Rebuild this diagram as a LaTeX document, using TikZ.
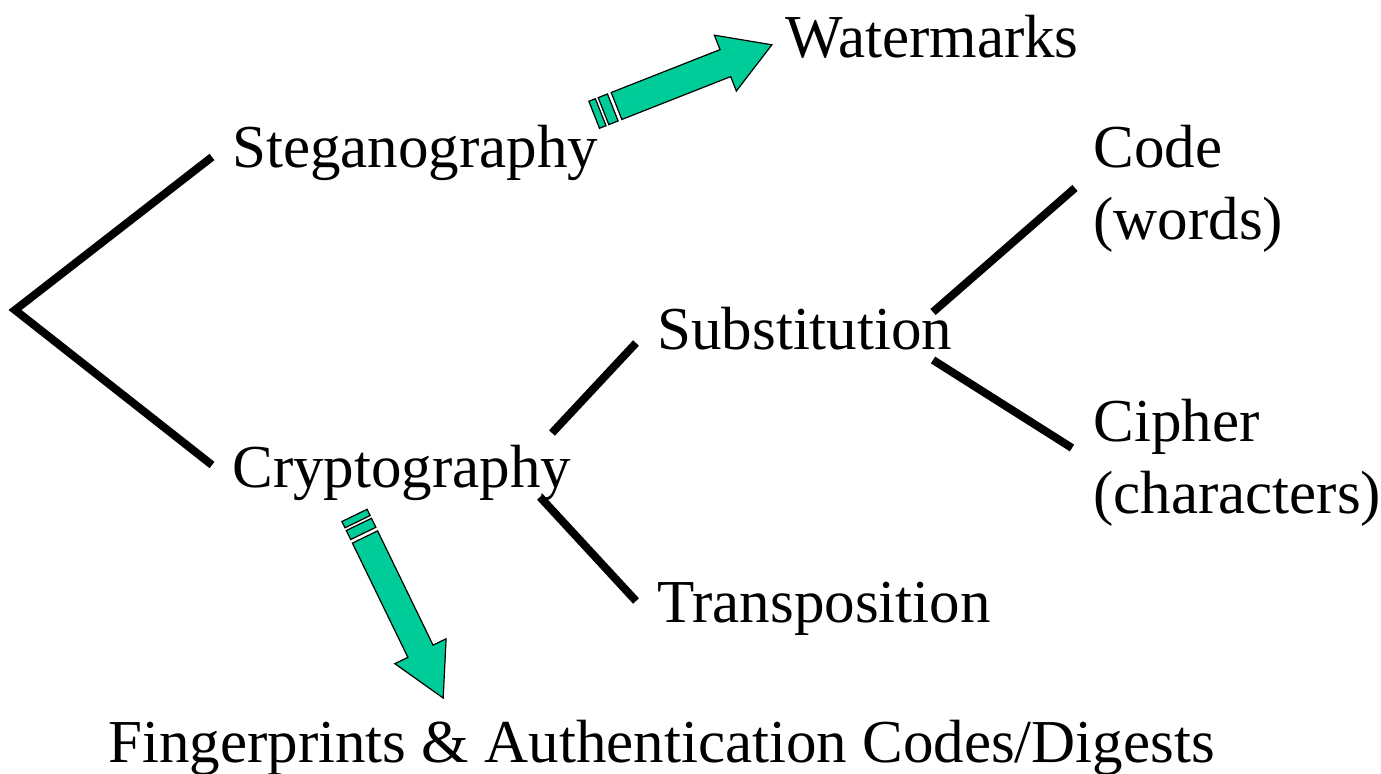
\documentclass[tikz,border=0pt]{standalone}
\usepackage{fontspec}
\setmainfont{Liberation Serif}
\definecolor{arrowgreen}{RGB}{0,204,153}
\tikzset{
  label/.style={inner sep=0pt, anchor=base west, font=\fontsize{30.5}{36}\selectfont},
  branch/.style={line width=4pt, line cap=butt},
  blockfill/.style={fill=arrowgreen, draw=black, line width=0.6pt, line join=miter},
}
% striped block arrow along the local x axis: #1 length, #2 head length,
% #3 shaft width, #4 head width
\newcommand{\stripedarrow}[4]{%
  \path[blockfill] (0,-#3/2) -- ({#1-#2},-#3/2) -- ({#1-#2},-#4/2) -- (#1,0)
    -- ({#1-#2},#4/2) -- ({#1-#2},#3/2) -- (0,#3/2) -- cycle;
  \path[blockfill] (-14,-#3/2) rectangle (-4,#3/2);
  \path[blockfill] (-24,-#3/2) rectangle (-17,#3/2);
}
\begin{document}
\begin{tikzpicture}[x=0.5pt,y=-0.5pt]
\useasboundingbox (0,0) rectangle (1381,774);

% labels
\node[label] (steg)  at (232,168) {Steganography};
\node[label] (crypt) at (232,488) {Cryptography};
\node[label] (water) at (785,58)  {Watermarks};
\node[label] (subst) at (657,350) {Substitution};
\node[label] (trans) at (657,622) {Transposition};
\node[label, align=left, anchor=north west] (code)
  at (1093,125) {Code\\(words)};
\node[label, align=left, anchor=north west] (ciph)
  at (1093,399) {Cipher\\(characters)};
\node[label] (finger) at (108,762) {Fingerprints \& Authentication Codes/Digests};

% branch end points
\coordinate (root) at (15,310);
\coordinate (stegIn)   at (212,157);
\coordinate (cryptIn)  at (212,465);
\coordinate (cryptOutU) at (552,433);
\coordinate (substIn)  at (636,343);
\coordinate (cryptOutD) at (540,497);
\coordinate (transIn)  at (636,601);
\coordinate (substOutU) at (933,312);
\coordinate (codeIn)   at (1075,188);
\coordinate (substOutD) at (933,360);
\coordinate (ciphIn)   at (1072,448);

\draw[branch] (stegIn) -- (root) -- (cryptIn);
\draw[branch] (cryptOutU) -- (substIn);
\draw[branch] (cryptOutD) -- (transIn);
\draw[branch] (substOutU) -- (codeIn);
\draw[branch] (substOutD) -- (ciphIn);

% block arrows
\coordinate (upTail) at (616.5,106);
\coordinate (downTail) at (365,537);
\begin{scope}[shift={(upTail)}, rotate=21.5]
  \stripedarrow{167}{50}{29}{60}
\end{scope}
\begin{scope}[shift={(downTail)}, rotate=-64.1]
  \stripedarrow{179}{52}{28}{57}
\end{scope}
\end{tikzpicture}
\end{document}
